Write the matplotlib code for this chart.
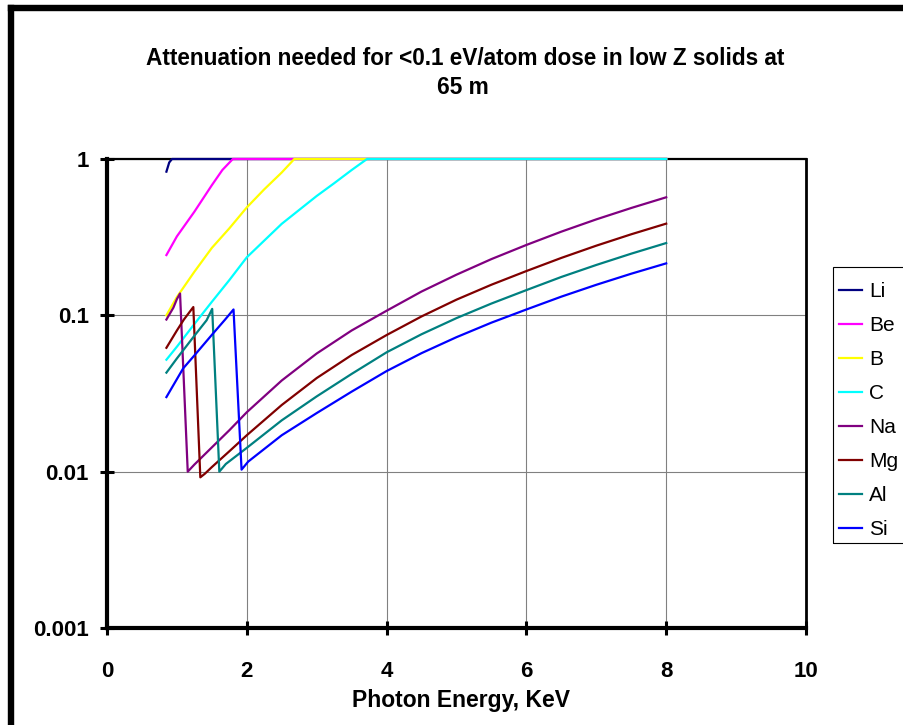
import matplotlib
matplotlib.use("Agg")
import matplotlib.pyplot as plt
from matplotlib.lines import Line2D
from matplotlib.patches import Rectangle
from matplotlib.ticker import FixedLocator, FixedFormatter, NullLocator

plt.rcParams["font.family"] = ["Liberation Sans", "DejaVu Sans"]

# ---------------------------------------------------------------------------
# Data (photon energy in keV, attenuation fraction)
# ---------------------------------------------------------------------------
li_x = [0.85, 0.89, 0.93, 1.0, 8.0]
li_y = [0.83, 0.95, 1.0, 1.0, 1.0]

be_x = [0.85, 1.0, 1.25, 1.5, 1.65, 1.8, 8.0]
be_y = [0.243, 0.32, 0.46, 0.68, 0.85, 1.0, 1.0]

b_x = [0.85, 1.0, 1.25, 1.5, 1.75, 2.0, 2.25, 2.5, 2.68, 8.0]
b_y = [0.10, 0.131, 0.19, 0.27, 0.36, 0.49, 0.64, 0.82, 1.0, 1.0]

c_x = [0.85, 1.0, 1.25, 1.5, 1.75, 2.0, 2.5, 3.0, 3.25, 3.5, 3.72, 8.0]
c_y = [0.052, 0.063, 0.088, 0.122, 0.168, 0.235, 0.385, 0.58, 0.70, 0.85, 1.0, 1.0]

na_x = [0.85, 0.95, 1.0, 1.045, 1.155, 1.25, 1.5, 1.75, 2.0, 2.5, 3.0, 3.5,
        4.0, 4.5, 5.0, 5.5, 6.0, 6.5, 7.0, 7.5, 8.0]
na_y = [0.094, 0.112, 0.127, 0.138, 0.0100, 0.0111, 0.0143, 0.0184, 0.0240,
        0.0383, 0.057, 0.080, 0.107, 0.142, 0.182, 0.229, 0.282, 0.343, 0.411,
        0.486, 0.569]

mg_x = [0.85, 1.0, 1.1, 1.235, 1.335, 1.4, 1.5, 1.75, 2.0, 2.5, 3.0, 3.5,
        4.0, 4.5, 5.0, 5.5, 6.0, 6.5, 7.0, 7.5, 8.0]
mg_y = [0.062, 0.080, 0.094, 0.113, 0.0092, 0.0097, 0.0107, 0.0135, 0.0171,
        0.0267, 0.0397, 0.0557, 0.0748, 0.0984, 0.126, 0.157, 0.192, 0.233,
        0.279, 0.330, 0.386]

al_x = [0.85, 1.0, 1.25, 1.425, 1.505, 1.607, 1.7, 2.0, 2.5, 3.0, 3.5, 4.0,
        4.5, 5.0, 5.5, 6.0, 6.5, 7.0, 7.5, 8.0]
al_y = [0.043, 0.053, 0.074, 0.093, 0.110, 0.0100, 0.0112, 0.0142, 0.0213,
        0.0303, 0.0422, 0.058, 0.0757, 0.096, 0.119, 0.145, 0.176, 0.210,
        0.248, 0.290]

si_x = [0.85, 1.09, 1.25, 1.5, 1.69, 1.81, 1.925, 2.02, 2.5, 3.0, 3.5, 4.0,
        4.5, 5.0, 5.5, 6.0, 6.5, 7.0, 7.5, 8.0]
si_y = [0.030, 0.0458, 0.0554, 0.075, 0.094, 0.109, 0.0103, 0.0116, 0.0171,
        0.0237, 0.0325, 0.044, 0.0573, 0.0725, 0.0898, 0.109, 0.1317, 0.1568,
        0.1846, 0.215]

series = [
    ("Li", li_x, li_y, "#000080"),
    ("Be", be_x, be_y, "#FF00FF"),
    ("B", b_x, b_y, "#FFFF00"),
    ("C", c_x, c_y, "#00FFFF"),
    ("Na", na_x, na_y, "#800080"),
    ("Mg", mg_x, mg_y, "#800000"),
    ("Al", al_x, al_y, "#008080"),
    ("Si", si_x, si_y, "#0000FF"),
]

x_ticks = [0, 2, 4, 6, 8, 10]
y_ticks = [0.001, 0.01, 0.1, 1]
y_tick_labels = ["0.001", "0.01", "0.1", "1"]

# ---------------------------------------------------------------------------
W, H = 904, 725
fig = plt.figure(figsize=(W / 100, H / 100), dpi=100)
ax = fig.add_axes([107 / W, 97 / H, 699 / W, 469 / H])

for name, xs, ys, col in series:
    ax.plot(xs, ys, color=col, lw=1.6, label=name, clip_on=False, zorder=3,
            solid_joinstyle="round")

ax.set_yscale("log")
ax.set_xlim(0, 10)
ax.set_ylim(0.001, 1)
ax.xaxis.set_major_locator(FixedLocator(x_ticks))
ax.yaxis.set_major_locator(FixedLocator(y_ticks))
ax.yaxis.set_major_formatter(FixedFormatter(y_tick_labels))
ax.yaxis.set_minor_locator(NullLocator())

ax.grid(True, which="major", color="#808080", lw=0.8, zorder=1)
ax.set_axisbelow(True)

ax.spines["left"].set_linewidth(3)
ax.spines["bottom"].set_linewidth(3)
ax.spines["right"].set_linewidth(2)
ax.spines["top"].set_linewidth(1.6)

ax.tick_params(axis="both", which="major", direction="inout", length=10,
               width=2.2, color="black", labelsize=16)
ax.tick_params(axis="y", pad=8)
ax.tick_params(axis="x", pad=18.5)
for lab in ax.get_xticklabels() + ax.get_yticklabels():
    lab.set_fontweight("bold")

# Titles and axis label
fig.text(465 / W, 1 - 65 / H,
         "Attenuation needed for <0.1 eV/atom dose in low Z solids at",
         ha="center", va="baseline", fontsize=16.3, fontweight="bold")
fig.text(463 / W, 1 - 93.5 / H, "65 m",
         ha="center", va="baseline", fontsize=16.3, fontweight="bold")
fig.text(461 / W, 1 - 706.5 / H, "Photon Energy, KeV",
         ha="center", va="baseline", fontsize=16.5, fontweight="bold")

# Legend: entries without frame, box drawn separately (it runs off the crop)
leg = ax.legend(loc="upper left", bbox_to_anchor=(839 / W, 1 - 282 / H),
                bbox_transform=fig.transFigure, fontsize=15, frameon=False,
                handlelength=1.1, handletextpad=0.33, labelspacing=0.72,
                borderpad=0, borderaxespad=0)
fig.add_artist(Rectangle((833 / W, 1 - 543 / H), 90 / W, (543 - 266.7) / H,
                         transform=fig.transFigure, fill=False,
                         edgecolor="black", lw=0.8))

# Outer chart border (left and top visible in the crop)
fig.add_artist(Line2D([10.5 / W, 10.5 / W], [0, 1 - 8 / H], transform=fig.transFigure,
                      color="black", lw=4.6, solid_capstyle="projecting"))
fig.add_artist(Line2D([10.5 / W, 1.0], [1 - 8 / H, 1 - 8 / H], transform=fig.transFigure,
                      color="black", lw=4.6, solid_capstyle="projecting"))

fig.savefig("out.png", dpi=100, facecolor="white")
